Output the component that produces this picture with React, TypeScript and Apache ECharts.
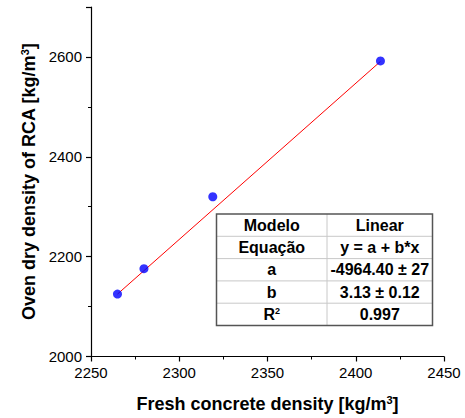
import React, { useEffect, useRef } from "react";
import * as echarts from "echarts";

const freshDensity = [2265, 2280, 2319, 2414];
const ovenDensity = [2125, 2176, 2320, 2592];
const fitLine = [
  [2265, 2125],
  [2414, 2591],
];
const tableLabels = ["Modelo", "Equação", "a", "b", "R{sup|2}"];
const tableValues = ["Linear", "y = a + b*x", "-4964.40 ± 27", "3.13 ± 0.12", "0.997"];

const FONT = "Arial, 'Liberation Sans', Helvetica, sans-serif";

export default function App() {
  const ref = useRef<HTMLDivElement>(null);
  useEffect(() => {
    if (!ref.current) return;
    const chart = echarts.init(ref.current, null, { renderer: "svg" });

    const tL = 216.5, tR = 432.5, tT = 214, rowH = 22.3, colX = 327;
    const nRows = tableLabels.length;
    const tB = tT + rowH * nRows;
    const g: any[] = [];
    g.push({ type: "rect", shape: { x: tL, y: tT, width: tR - tL, height: tB - tT }, style: { fill: "#fff", stroke: "none" }, z: 10 });
    for (let i = 1; i < nRows; i++) {
      g.push({ type: "line", shape: { x1: tL, y1: tT + rowH * i, x2: tR, y2: tT + rowH * i }, style: { stroke: "#c8c8c8", lineWidth: 1 }, z: 11 });
    }
    g.push({ type: "line", shape: { x1: colX, y1: tT, x2: colX, y2: tB }, style: { stroke: "#c8c8c8", lineWidth: 1 }, z: 11 });
    g.push({ type: "rect", shape: { x: tL, y: tT, width: tR - tL, height: tB - tT }, style: { fill: "none", stroke: "#555", lineWidth: 1.5 }, z: 12 });
    const rich = { sup: { fontSize: 9, fontWeight: "bold", fontFamily: FONT, verticalAlign: "top", lineHeight: 10, padding: [0, 0, 7, 0] } };
    for (let i = 0; i < nRows; i++) {
      const cy = tT + rowH * i + rowH / 2;
      g.push({ type: "text", x: (tL + colX) / 2, y: cy, z: 13, style: { text: tableLabels[i], align: "center", verticalAlign: "middle", fontSize: 16, fontWeight: "bold", fontFamily: FONT, fill: "#000", rich } });
      g.push({ type: "text", x: (colX + tR) / 2, y: cy, z: 13, style: { text: tableValues[i], align: "center", verticalAlign: "middle", fontSize: 16, fontWeight: "bold", fontFamily: FONT, fill: "#000" } });
    }

    const nameRich = { sup: { fontSize: 11, fontWeight: "bold", fontFamily: FONT, color: "#000", verticalAlign: "top", padding: [0, 0, 8, 0] } };
    chart.setOption({
      animation: false,
      grid: { left: 91, right: 21, top: 7, bottom: 58 },
      xAxis: {
        type: "value",
        min: 2250,
        max: 2450,
        interval: 50,
        name: "Fresh concrete density [kg/m{sup|3}]",
        nameLocation: "middle",
        nameGap: 38,
        nameTextStyle: { fontSize: 18, fontWeight: "bold", fontFamily: FONT, color: "#000", rich: nameRich },
        axisLine: { lineStyle: { color: "#000", width: 1.2 } },
        axisTick: { inside: false, length: 5, lineStyle: { color: "#000", width: 1.2 } },
        minorTick: { show: true, splitNumber: 2, length: 3, lineStyle: { color: "#000", width: 1 } },
        axisLabel: { fontSize: 15, fontFamily: FONT, color: "#000", margin: 8, formatter: (v: number) => String(v) },
        splitLine: { show: false },
      },
      yAxis: {
        type: "value",
        min: 2000,
        max: 2700,
        interval: 200,
        name: "Oven dry density of RCA [kg/m{sup|3}]",
        nameLocation: "middle",
        nameGap: 52,
        nameTextStyle: { fontSize: 18, fontWeight: "bold", fontFamily: FONT, color: "#000", rich: nameRich },
        axisLine: { show: true, lineStyle: { color: "#000", width: 1.2 } },
        axisTick: { show: true, inside: false, length: 5, lineStyle: { color: "#000", width: 1.2 } },
        minorTick: { show: true, splitNumber: 2, length: 3, lineStyle: { color: "#000", width: 1 } },
        axisLabel: {
          fontSize: 15,
          fontFamily: FONT,
          color: "#000",
          margin: 9,
          formatter: (v: number) => (v % 200 === 0 ? String(v) : ""),
        },
        splitLine: { show: false },
      },
      series: [
        {
          type: "line",
          data: fitLine,
          symbol: "none",
          lineStyle: { color: "#ff0000", width: 1 },
          z: 2,
        },
        {
          type: "scatter",
          data: freshDensity.map((x, i) => [x, ovenDensity[i]]),
          symbol: "circle",
          symbolSize: 9,
          itemStyle: { color: "#0000ff" },
          z: 3,
        },
      ],
      graphic: g,
    });
    return () => chart.dispose();
  }, []);
  return <div ref={ref} style={{ position: "absolute", left: 0, top: 0, width: 465, height: 418 }} />;
}
